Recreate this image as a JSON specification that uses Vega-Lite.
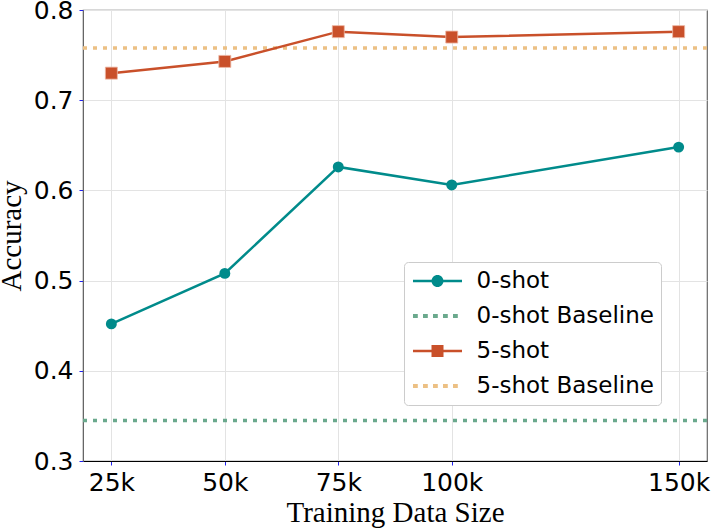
{
  "$schema": "https://vega.github.io/schema/vega-lite/v6.json",
  "autosize": {"type": "none"},
  "padding": {"left": 83, "top": 10, "right": 7, "bottom": 67},
  "width": 624,
  "height": 451,
  "background": "white",
  "config": {
    "view": {"stroke": "#666666", "strokeWidth": 1.2},
    "axis": {
      "labelFont": "DejaVu Sans",
      "labelFontSize": 25,
      "labelColor": "black",
      "titleFont": "Liberation Serif",
      "titleFontSize": 29,
      "titleFontWeight": "normal",
      "titleColor": "black",
      "tickColor": "#2222ee",
      "tickSize": 4,
      "gridColor": "#e3e3e3",
      "gridWidth": 1
    }
  },
  "data": {
    "values": [
      {"series": "0-shot", "size": 25, "accuracy": 0.452},
      {"series": "0-shot", "size": 50, "accuracy": 0.508},
      {"series": "0-shot", "size": 75, "accuracy": 0.626},
      {"series": "0-shot", "size": 100, "accuracy": 0.606},
      {"series": "0-shot", "size": 150, "accuracy": 0.648},
      {"series": "5-shot", "size": 25, "accuracy": 0.730},
      {"series": "5-shot", "size": 50, "accuracy": 0.743},
      {"series": "5-shot", "size": 75, "accuracy": 0.776},
      {"series": "5-shot", "size": 100, "accuracy": 0.770},
      {"series": "5-shot", "size": 150, "accuracy": 0.776},
      {"series": "0-shot Baseline", "accuracy": 0.345},
      {"series": "5-shot Baseline", "accuracy": 0.758}
    ]
  },
  "layer": [
    {
      "transform": [{"filter": "datum.series === '0-shot Baseline'"}],
      "mark": {"type": "rule", "color": "#6aa98d", "strokeWidth": 3.5, "strokeDash": [4, 6]},
      "encoding": {
        "y": {"field": "accuracy", "type": "quantitative", "scale": {"domain": [0.3, 0.8], "nice": false, "zero": false},
          "axis": {"values": [0.3, 0.4, 0.5, 0.6, 0.7, 0.8], "format": ".1f", "title": "Accuracy", "domainColor": "#666666", "labelPadding": 6, "titlePadding": 7}}
      }
    },
    {
      "transform": [{"filter": "datum.series === '5-shot Baseline'"}],
      "mark": {"type": "rule", "color": "#ecc084", "strokeWidth": 3.5, "strokeDash": [4, 6]},
      "encoding": {
        "y": {"field": "accuracy", "type": "quantitative"}
      }
    },
    {
      "transform": [{"filter": "datum.series === '0-shot'"}],
      "mark": {"type": "line", "color": "#008b8b", "strokeWidth": 2.5},
      "encoding": {
        "x": {"field": "size", "type": "quantitative", "scale": {"domain": [18.75, 156.25], "nice": false, "zero": false},
          "axis": {"values": [25, 50, 75, 100, 150], "labelExpr": "datum.value + 'k'", "title": "Training Data Size", "domainColor": "black", "labelPadding": 5, "titlePadding": 3}},
        "y": {"field": "accuracy", "type": "quantitative"}
      }
    },
    {
      "transform": [{"filter": "datum.series === '0-shot'"}],
      "mark": {"type": "circle", "color": "#008b8b", "size": 120, "opacity": 1},
      "encoding": {
        "x": {"field": "size", "type": "quantitative"},
        "y": {"field": "accuracy", "type": "quantitative"}
      }
    },
    {
      "transform": [{"filter": "datum.series === '5-shot'"}],
      "mark": {"type": "line", "color": "#c9502a", "strokeWidth": 2.5},
      "encoding": {
        "x": {"field": "size", "type": "quantitative"},
        "y": {"field": "accuracy", "type": "quantitative"}
      }
    },
    {
      "transform": [{"filter": "datum.series === '5-shot'"}],
      "mark": {"type": "square", "color": "#c9502a", "size": 144, "opacity": 1, "stroke": "#eeb8a4", "strokeWidth": 0.8},
      "encoding": {
        "x": {"field": "size", "type": "quantitative"},
        "y": {"field": "accuracy", "type": "quantitative"}
      }
    },
    {
      "mark": {"type": "point", "filled": true, "size": 0, "strokeWidth": 0, "opacity": 1},
      "encoding": {
        "y": {"field": "accuracy", "type": "quantitative"},
        "color": {
          "field": "series", "type": "nominal",
          "scale": {"domain": ["0-shot", "0-shot Baseline", "5-shot", "5-shot Baseline"], "range": ["#008b8b", "#6aa98d", "#c9502a", "#ecc084"]},
          "legend": {
            "title": null,
            "orient": "none",
            "legendX": 321,
            "legendY": 252,
            "symbolSize": 576,
            "symbolOpacity": 1,
            "symbolStrokeWidth": 0,
            "symbolOffset": 14.5,
            "labelFont": "DejaVu Sans",
            "labelFontSize": 23,
            "labelColor": "black",
            "labelOffset": 27,
            "labelLimit": 300,
            "rowPadding": 11,
            "padding": 7,
            "strokeColor": "#cccccc",
            "cornerRadius": 4,
            "fillColor": "white"
          }
        },
        "shape": {
          "field": "series", "type": "nominal",
          "scale": {"domain": ["0-shot", "0-shot Baseline", "5-shot", "5-shot Baseline"],
            "range": [
              "M-2.042,-0.104H2.042V0.104H-2.042Z M0.5,0A0.5,0.5,0,1,1,-0.5,0A0.5,0.5,0,1,1,0.5,0Z",
              "M-2.042,-0.17h0.4v0.34h-0.4Z M-1.208,-0.17h0.4v0.34h-0.4Z M-0.375,-0.17h0.4v0.34h-0.4Z M0.458,-0.17h0.4v0.34h-0.4Z M1.292,-0.17h0.4v0.34h-0.4Z",
              "M-2.042,-0.104H2.042V0.104H-2.042Z M-0.5,-0.5H0.5V0.5H-0.5Z",
              "M-2.042,-0.17h0.4v0.34h-0.4Z M-1.208,-0.17h0.4v0.34h-0.4Z M-0.375,-0.17h0.4v0.34h-0.4Z M0.458,-0.17h0.4v0.34h-0.4Z M1.292,-0.17h0.4v0.34h-0.4Z"
            ]}
        }
      }
    }
  ]
}
